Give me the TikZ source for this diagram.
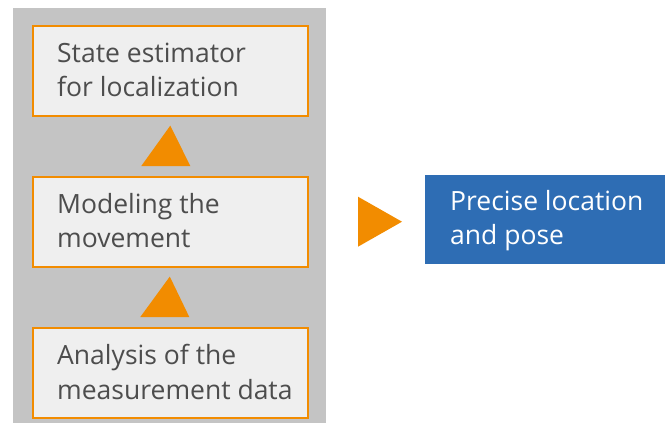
\documentclass[tikz,border=0pt]{standalone}
\usepackage{fontspec}
\setmainfont{Open Sans}
\usetikzlibrary{calc}
\definecolor{panelgray}{HTML}{C4C4C4}
\definecolor{boxfill}{HTML}{EFEFEF}
\definecolor{accent}{HTML}{F28C00}
\definecolor{bluebox}{HTML}{2E6DB4}
\definecolor{txt}{HTML}{4D4D4D}
\tikzset{
  stepbox/.style={draw=accent, line width=1.6pt, fill=boxfill, anchor=north west,
    minimum width=275pt, minimum height=90pt, inner sep=0pt},
  resultbox/.style={fill=bluebox, anchor=north west,
    minimum width=240pt, minimum height=89pt, inner sep=0pt},
  label/.style={anchor=west, inner sep=0pt, align=left,
    font=\fontsize{26.5}{34.5}\selectfont},
  arrowhead/.style={fill=accent, draw=none}
}
\begin{document}
\begin{tikzpicture}[x=1pt, y=-1pt]
  \useasboundingbox (0,0) rectangle (671,423);
  % grey panel behind the three stages
  \fill[panelgray] (13,8) rectangle (326,423);
  % stages
  \node[stepbox] (est) at (32,25) {};
  \node[stepbox] (mod) at (32,176) {};
  \node[stepbox] (ana) at (32,327) {};
  \node[label, text=txt] (est-t) at ($(est.west)+(25,-1)$) {State estimator\\for localization};
  \node[label, text=txt] (mod-t) at ($(mod.west)+(25,-1)$) {Modeling the\\movement};
  \node[label, text=txt] (ana-t) at ($(ana.west)+(25,-1)$) {Analysis of the\\measurement data};
  % upward arrows between stages
  \fill[arrowhead] ($(mod.north)+(-29,-10)$) -- ($(est.south)+(0,9)$) -- ($(mod.north)+(20,-10)$) -- cycle;
  \fill[arrowhead] ($(ana.north)+(-30,-10)$) -- ($(mod.south)+(-0.5,9)$) -- ($(ana.north)+(19,-10)$) -- cycle;
  % result
  \node[resultbox] (res) at (425,175) {};
  \node[label, text=white] (res-t) at ($(res.west)+(25,1)$) {Precise location\\and pose};
  \coordinate (tip) at ($(res.west)+(-23,2)$);
  \fill[arrowhead] ($(tip)+(-44,-25)$) -- (tip) -- ($(tip)+(-44,25)$) -- cycle;
\end{tikzpicture}
\end{document}
